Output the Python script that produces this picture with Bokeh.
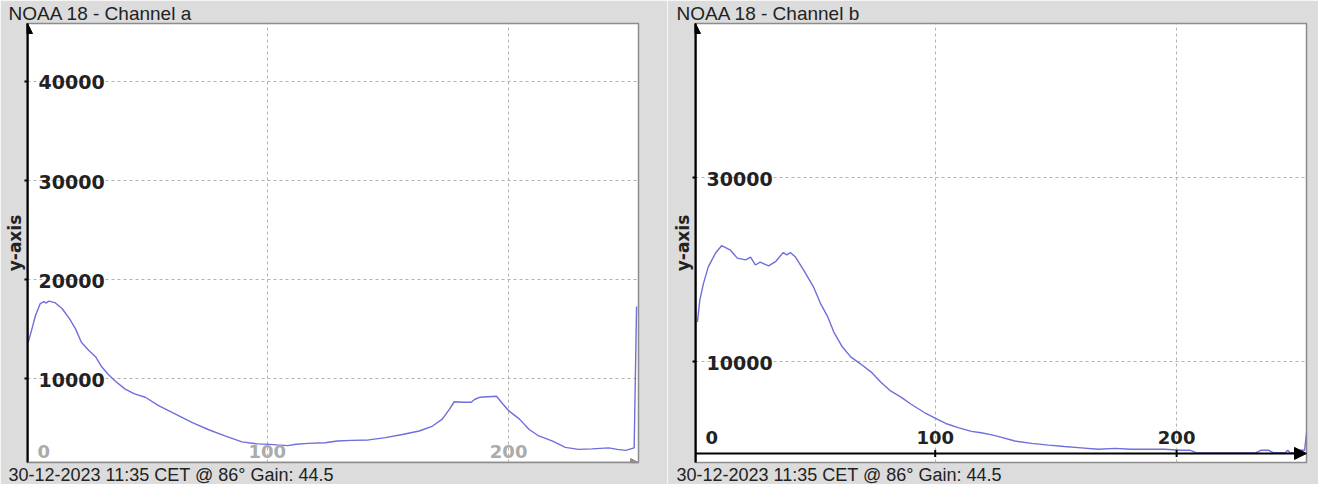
import numpy as np
from bokeh.plotting import figure
from bokeh.layouts import row
from bokeh.models import (Range1d, FixedTicker, CustomJSTickFormatter, Title, Arrow,
                          NormalHead, ColumnDataSource)
from bokeh.core.properties import value
from bokeh.embed import file_html
from bokeh.resources import INLINE

# ---------------- data ----------------
titles = ["NOAA 18 - Channel a", "NOAA 18 - Channel b"]
footer_text = "30-12-2023 11:35 CET @ 86\u00b0 Gain: 44.5"
y_axis_label = "y-axis"

x_ticks = [0, 100, 200]
x_tick_labels = ["0", "100", "200"]

a_y_ticks = [10000, 20000, 30000, 40000]
a_y_tick_labels = ["10000", "20000", "30000", "40000"]
b_y_ticks = [10000, 30000]
b_y_tick_labels = ["10000", "30000"]

a_x = [1, 2.6, 4, 6, 7.5, 8.5, 9.5, 12, 15, 18, 20.5, 23, 26, 29, 31.5, 34, 37, 41, 45,
       49.5, 55, 62, 69, 75.5, 82.5, 89.5, 96, 101, 104, 108.5, 112, 117, 124, 129,
       135, 142, 149, 156, 163, 168.5, 172.5, 175.5, 177.5, 181, 184.5, 186, 188,
       195, 197, 200, 204.5, 208.5, 212.5, 218, 223.5, 229, 234.5, 241.5, 245,
       248.5, 252, 253]
a_y = [13700, 15100, 16400, 17600, 17800, 17650, 17850, 17700, 17100, 16100, 15100, 13700,
       12900, 12200, 11200, 10500, 9800, 9000, 8500, 8150, 7300, 6450, 5600, 4900,
       4250, 3650, 3450, 3400, 3350, 3280, 3420, 3500, 3570, 3740, 3800, 3850, 4080,
       4400, 4750, 5250, 5950, 6950, 7700, 7650, 7650, 7950, 8150, 8250, 7650, 6800,
       5950, 4900, 4250, 3750, 3100, 2900, 2950, 3050, 2900, 2800, 3050, 17300]

b_x = [1.5, 2.5, 4, 6, 9, 11.5, 15, 18, 21.5, 23.5, 25.5, 27.5, 31, 34, 37, 38.5, 40, 42,
       45.5, 49.5, 52.5, 55.5, 58, 61.5, 65, 69, 73.5, 77.5, 81.5, 86, 90, 95.5, 101,
       105, 109.5, 115, 119, 123, 126, 133, 140, 147, 153.5, 160.5, 167.5, 174.5,
       181, 188, 195, 202, 205.5, 208, 220, 233, 235, 238, 240, 245, 246, 247, 250,
       251, 253, 254]
b_y = [14300, 16700, 18500, 20300, 21800, 22600, 22150, 21250, 21050, 21350, 20500,
       20800, 20400, 20900, 21850, 21600, 21850, 21400, 19950, 18150, 16300, 14850, 13200,
       11600, 10500, 9750, 8850, 7750, 6800, 6100, 5350, 4450, 3700, 3200, 2800, 2400,
       2250, 2050, 1850, 1350, 1100, 900, 750, 600, 450, 550, 450, 450, 450, 350, 350,
       80, 60, 80, 350, 350, 80, 80, 350, 80, 80, 350, 350, 2600]

x_start, x_end = 0.7, 253.8
a_y_range = (1574, 45840)
b_y_range = (-986, 46770)

# ---------------- style ----------------
BG = "#dcdcdc"
LINE = "#6e6edc"
GRID = "#b2b2b2"
TEXT = "#222222"
TICK_FONT = value("DejaVu Sans")


def make_panel(title, xs, ys, y_ticks, y_labels, y_rng, axis_at_zero,
               width, border_left, border_right):
    y0, y1 = y_rng
    p = figure(width=width, height=484,
               x_range=Range1d(x_start, x_end), y_range=Range1d(y0, y1),
               x_axis_location=None, y_axis_location="left",
               output_backend="svg", toolbar_location=None,
               min_border_left=border_left, min_border_right=border_right,
               min_border_top=19, min_border_bottom=20,
               background_fill_color="white", border_fill_color=BG)
    p.outline_line_color = "#8c8c8c"
    p.outline_line_width = 1.5

    # title
    p.title.text = title
    p.title.align = "left"
    p.title.offset = -19
    p.title.standoff = 0
    p.title.text_font = "Liberation Sans"
    p.title.text_font_size = "19px"
    p.title.text_font_style = "normal"
    p.title.text_color = TEXT

    # footer
    p.add_layout(Title(text=footer_text, align="left", offset=-19, standoff=0,
                       text_font="Liberation Sans", text_font_size="18px",
                       text_font_style="normal", text_color=TEXT), "below")

    # grids
    p.xgrid.ticker = FixedTicker(ticks=x_ticks)
    p.ygrid.ticker = FixedTicker(ticks=y_ticks)
    p.grid.grid_line_color = GRID
    p.grid.grid_line_dash = "3 3"
    p.grid.grid_line_width = 1

    # y axis (line + label only, tick labels drawn inside the frame)
    ax = p.yaxis[0]
    ax.ticker = FixedTicker(ticks=y_ticks)
    ax.formatter = CustomJSTickFormatter(code="return ''")
    ax.major_label_standoff = 0
    ax.major_tick_out = 3
    ax.major_tick_in = 0
    ax.minor_tick_out = 0
    ax.minor_tick_in = 0
    ax.axis_line_color = "black"
    ax.axis_line_width = 2
    ax.major_tick_line_color = "black"
    ax.major_tick_line_width = 2
    ax.axis_label = y_axis_label
    ax.axis_label_standoff = 0
    ax.axis_label_text_font = "DejaVu Sans"
    ax.axis_label_text_font_size = "17px"
    ax.axis_label_text_font_style = "bold"
    ax.axis_label_text_color = TEXT

    # data line
    p.line(xs, ys, line_color=LINE, line_width=1.4)

    # arrow head at the top of the y axis
    p.add_layout(Arrow(x_start=x_start, y_start=y0, x_end=x_start, y_end=y1,
                       line_color="black", line_width=2,
                       end=NormalHead(size=10, fill_color="black", line_color="black")))

    # x axis: at y = 0 when in range, else clamped to the bottom (grey)
    if axis_at_zero:
        ax_y, ax_col, lab_col, lab_dy = 0, "black", TEXT, -9
    else:
        ax_y, ax_col, lab_col, lab_dy = y0, "#8c8c8c", "#ababab", -5
    p.add_layout(Arrow(x_start=x_start, y_start=ax_y, x_end=x_end, y_end=ax_y,
                       line_color=ax_col, line_width=2 if axis_at_zero else 1.5,
                       end=NormalHead(size=12 if axis_at_zero else 8,
                                      fill_color=ax_col, line_color=ax_col)))
    if axis_at_zero:
        p.scatter(x=x_ticks[1:], y=[ax_y] * (len(x_ticks) - 1), marker="dash",
                  angle=np.pi / 2, size=7, line_color="black", line_width=2)

    # x tick labels inside the frame
    xsrc = ColumnDataSource(dict(x=x_ticks, y=[ax_y] * len(x_ticks), t=x_tick_labels,
                                 dx=[18, 0, 0]))
    p.text(x="x", y="y", text="t", source=xsrc, x_offset="dx", y_offset=lab_dy,
           text_align="center", text_baseline="bottom", text_font=TICK_FONT,
           text_font_size="18px", text_font_style="bold", text_color=lab_col)

    # y tick labels inside the frame
    ysrc = ColumnDataSource(dict(x=[x_start] * len(y_ticks), y=y_ticks, t=y_labels))
    p.text(x="x", y="y", text="t", source=ysrc, x_offset=11, y_offset=1,
           text_align="left", text_baseline="middle", text_font=TICK_FONT,
           text_font_size="19px", text_font_style="bold", text_color=TEXT)
    return p


p1 = make_panel(titles[0], a_x, a_y, a_y_ticks, a_y_tick_labels, a_y_range, False,
                667, 27, 29)
p2 = make_panel(titles[1], b_x, b_y, b_y_ticks, b_y_tick_labels, b_y_range, True,
                651, 28, 12)

layout = row(p1, p2)
open("out.html", "w").write(file_html(layout, INLINE))
